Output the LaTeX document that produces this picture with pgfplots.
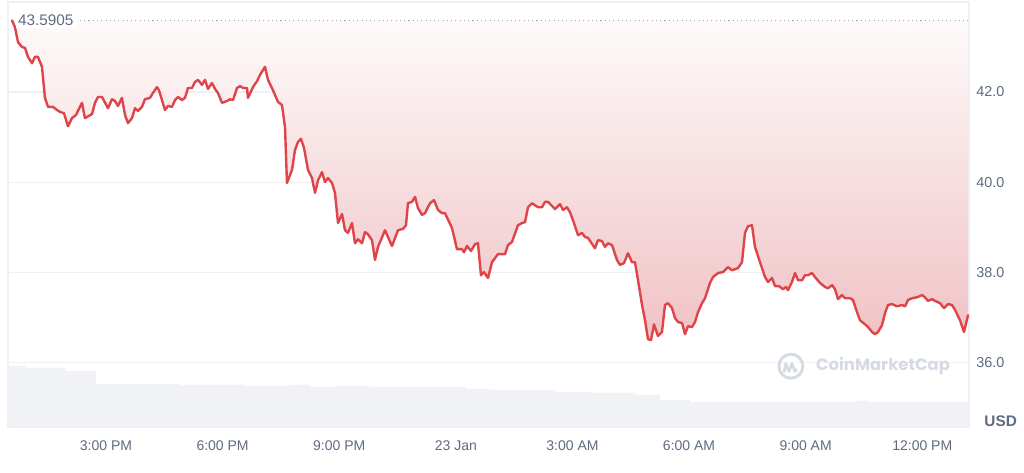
\documentclass[border=0pt]{standalone}
\usepackage{pgfplots}
\pgfplotsset{compat=1.18}
\usepackage{pgfplotstable}
\usepackage{fontspec}
\setmainfont{Liberation Sans}
\newfontfamily\wmfont{Poppins}
\definecolor{linered}{HTML}{DF444A}
\definecolor{lblgray}{HTML}{5E6B82}
\definecolor{gridgray}{HTML}{EEF0F3}
\definecolor{volgray}{HTML}{F1F2F6}
\definecolor{wmgray}{HTML}{D5DAE4}
\definecolor{dotgray}{HTML}{9AA1AD}

\pgfplotstableread{
h p
0.581 43.5905
0.659 43.44
0.736 43.11
0.839 43.00
0.916 42.98
0.993 42.78
1.096 42.64
1.173 42.78
1.250 42.78
1.353 42.56
1.430 41.87
1.508 41.67
1.636 41.67
1.739 41.60
1.816 41.56
1.919 41.53
2.022 41.24
2.125 41.42
2.228 41.49
2.382 41.76
2.459 41.42
2.640 41.51
2.717 41.76
2.794 41.89
2.897 41.89
3.051 41.64
3.154 41.84
3.231 41.80
3.308 41.69
3.411 41.87
3.489 41.49
3.566 41.31
3.669 41.42
3.746 41.64
3.823 41.58
3.926 41.67
4.003 41.84
4.132 41.87
4.209 41.98
4.312 42.11
4.363 42.04
4.518 41.60
4.595 41.69
4.698 41.67
4.775 41.82
4.852 41.89
4.955 41.82
5.032 41.87
5.109 42.09
5.212 42.09
5.289 42.22
5.367 42.27
5.470 42.16
5.547 42.27
5.624 42.07
5.727 42.20
5.804 42.07
5.881 41.98
5.984 41.76
6.113 41.80
6.190 41.84
6.267 41.82
6.370 42.09
6.447 42.13
6.524 42.09
6.627 42.09
6.653 41.87
6.782 42.11
6.885 42.24
6.962 42.38
7.090 42.56
7.168 42.27
7.296 42.04
7.425 41.78
7.528 41.71
7.605 41.22
7.656 39.98
7.785 40.27
7.862 40.71
7.939 40.89
8.016 40.96
8.094 40.76
8.197 40.27
8.300 40.09
8.377 39.76
8.454 40.04
8.557 40.22
8.634 40.00
8.711 40.09
8.814 39.98
8.891 39.76
8.969 39.09
9.072 39.29
9.149 38.93
9.226 38.87
9.329 39.09
9.406 38.64
9.483 38.73
9.586 38.64
9.663 38.89
9.740 38.84
9.843 38.71
9.920 38.27
9.998 38.56
10.178 38.93
10.358 38.58
10.512 38.93
10.641 38.96
10.718 39.04
10.769 39.53
10.872 39.56
10.950 39.67
11.027 39.42
11.130 39.27
11.207 39.31
11.335 39.53
11.438 39.60
11.541 39.38
11.644 39.31
11.721 39.31
11.901 38.98
12.030 38.51
12.159 38.51
12.210 38.44
12.287 38.58
12.390 38.47
12.493 38.62
12.570 38.64
12.647 37.93
12.725 38.00
12.828 37.87
12.930 38.22
13.085 38.40
13.265 38.40
13.342 38.60
13.445 38.67
13.599 39.04
13.702 39.09
13.779 39.11
13.857 39.44
13.959 39.53
14.114 39.44
14.217 39.44
14.294 39.56
14.371 39.56
14.551 39.40
14.680 39.51
14.757 39.38
14.860 39.44
14.937 39.33
15.040 39.09
15.143 38.82
15.246 38.87
15.323 38.78
15.400 38.76
15.580 38.53
15.657 38.71
15.760 38.69
15.837 38.56
15.915 38.64
16.018 38.60
16.146 38.27
16.223 38.16
16.326 38.20
16.429 38.42
16.532 38.22
16.609 38.22
16.687 37.82
16.790 37.27
16.867 36.93
16.944 36.51
17.021 36.49
17.098 36.84
17.201 36.58
17.304 36.67
17.381 37.27
17.459 37.31
17.562 37.20
17.639 36.98
17.716 36.89
17.819 36.87
17.896 36.62
17.973 36.80
18.076 36.78
18.153 36.89
18.230 37.11
18.333 37.31
18.410 37.42
18.539 37.76
18.616 37.89
18.745 37.98
18.874 38.00
19.002 38.11
19.105 38.04
19.259 38.09
19.362 38.22
19.439 38.87
19.516 39.02
19.619 39.04
19.696 38.56
19.825 38.22
19.954 37.89
20.031 37.78
20.134 37.87
20.211 37.69
20.314 37.69
20.417 37.62
20.494 37.67
20.545 37.60
20.648 37.78
20.726 37.98
20.803 37.82
20.906 37.82
20.983 37.93
21.060 37.93
21.163 37.98
21.240 37.89
21.369 37.76
21.498 37.67
21.575 37.64
21.678 37.71
21.755 37.62
21.832 37.40
21.935 37.49
22.012 37.42
22.141 37.42
22.218 37.38
22.321 37.11
22.398 36.93
22.527 36.84
22.604 36.78
22.707 36.67
22.784 36.62
22.861 36.67
22.964 36.82
23.041 37.09
23.118 37.27
23.221 37.29
23.350 37.24
23.479 37.27
23.556 37.24
23.633 37.38
23.736 37.42
23.864 37.44
23.993 37.49
24.070 37.44
24.147 37.36
24.250 37.40
24.327 37.36
24.456 37.31
24.559 37.20
24.662 37.29
24.765 37.27
24.842 37.16
24.971 36.93
25.073 36.67
25.176 37.04
}\price

\pgfplotstableread{
h v
0.479 24.4
0.92 23.6
1.94 22.4
2.74 17.2
4.90 16.8
6.58 16.4
7.73 16.8
8.25 16.0
8.89 16.4
9.79 16.0
12.24 15.2
12.88 14.8
14.55 14.0
15.45 13.6
16.61 12.8
17.25 10.8
18.02 10.0
22.30 10.4
22.60 10.0
25.202 10.0
}\volume

\begin{document}
\begin{tikzpicture}
\useasboundingbox (0,0) rectangle (768pt,354.75pt);
% volume
\begin{axis}[
  at={(6pt,34.5pt)}, anchor=south west,
  scale only axis, width=720.75pt, height=318.75pt,
  xmin=0.479, xmax=25.202, ymin=0, ymax=170,
  hide axis,
]
\addplot[const plot, fill=volgray, draw=none] table[x=h,y=v]{\volume} \closedcycle;
\end{axis}
% price
\begin{axis}[
  at={(6pt,34.5pt)}, anchor=south west,
  scale only axis, width=720.75pt, height=318.75pt,
  xmin=0.479, xmax=25.202, ymin=34.56, ymax=44.0,
  axis line style={draw=gridgray, line width=0.8pt},
  ytick={36,38,40,42},
  ytick pos=right, yticklabel pos=right,
  yticklabel style={anchor=west, xshift=2pt, font=\fontsize{10.8}{12}\selectfont, text=lblgray,
    /pgf/number format/fixed, /pgf/number format/precision=1, /pgf/number format/zerofill},
  /pgf/number format/assume math mode=true,
  xtick={3,6,9,12,15,18,21,24},
  xticklabels={3:00 PM,6:00 PM,9:00 PM,23 Jan,3:00 AM,6:00 AM,9:00 AM,12:00 PM},
  xticklabel style={font=\fontsize{10.5}{12}\selectfont, text=lblgray, yshift=-7pt},
  major tick length=0pt,
  ymajorgrids, grid style={draw=gridgray, line width=0.8pt},
]
\addplot[draw=none, top color={rgb,255:red,254;green,250;blue,250}, middle color={rgb,255:red,249;green,228;blue,229}, bottom color={rgb,255:red,240;green,194;blue,197}]
  table[x=h,y=p]{\price} -- (axis cs:25.176,43.5905) -- (axis cs:0.581,43.5905) -- cycle;
\draw[dotgray, line width=0.9pt, dash pattern=on 0.8pt off 2.4pt] (axis cs:2.33,43.5905) -- (axis cs:25.202,43.5905);
\addplot[linered, line width=1.8pt, line join=round, line cap=round] table[x=h,y=p]{\price};
\node[anchor=west, fill=white, inner sep=1.5pt, text=lblgray, font=\fontsize{11.5}{13}\selectfont]
  at (axis cs:0.68,43.5905) {43.5905};
% watermark
\draw[wmgray, line width=2.2pt] (axis cs:20.62,35.91) circle[radius=9pt];
\draw[wmgray, line width=2pt, line cap=round, line join=round]
  (axis cs:20.62,35.91) ++(-5pt,-4pt) -- ++(1.2pt,6pt) -- ++(2.3pt,-6pt) -- ++(2.3pt,6pt) -- ++(2.3pt,-6pt) -- ++(1pt,1.5pt);
\node[anchor=west, text=wmgray, font=\wmfont\bfseries\fontsize{12.3}{14}\selectfont] at (axis cs:21.15,35.91) {CoinMarketCap};
\end{axis}
\node[text=lblgray, font=\bfseries\fontsize{11.5}{13}\selectfont] at (750.5pt,39pt) {USD};
\end{tikzpicture}
\end{document}
